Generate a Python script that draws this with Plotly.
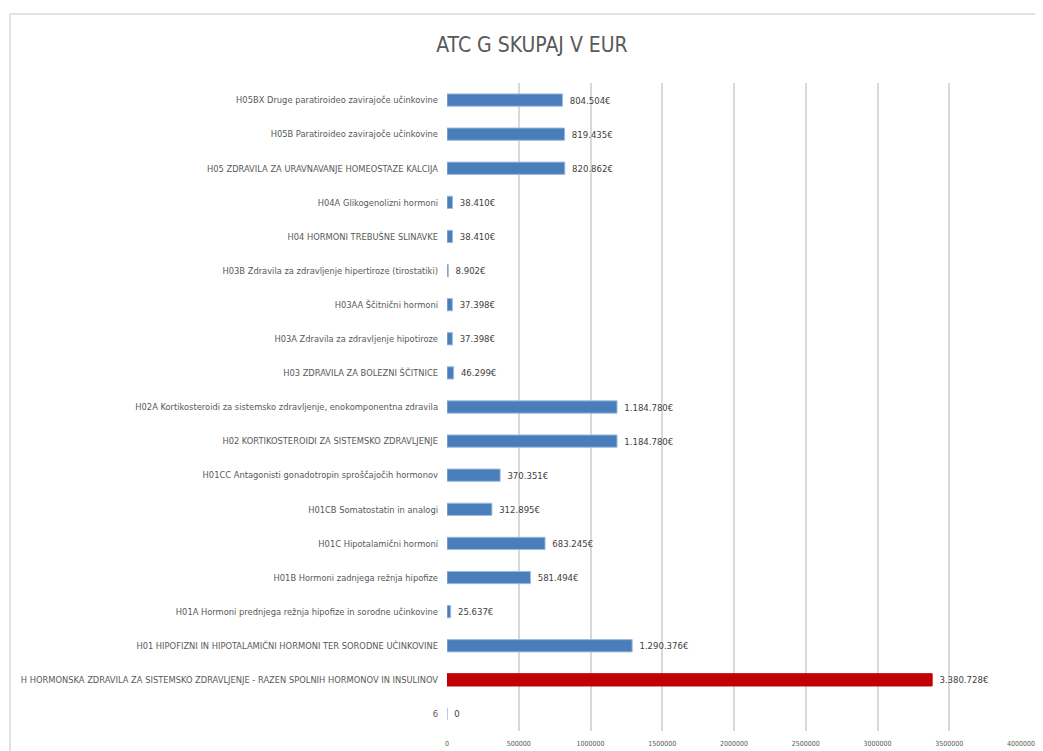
import plotly.graph_objects as go

# Data (top-to-bottom as in the reference)
categories = [
    "H05BX Druge paratiroideo zavirajoče učinkovine",
    "H05B Paratiroideo zavirajoče učinkovine",
    "H05 ZDRAVILA ZA URAVNAVANJE HOMEOSTAZE KALCIJA",
    "H04A Glikogenolizni hormoni",
    "H04 HORMONI TREBUŠNE SLINAVKE",
    "H03B Zdravila za zdravljenje hipertiroze (tirostatiki)",
    "H03AA Ščitnični hormoni",
    "H03A Zdravila za zdravljenje hipotiroze",
    "H03 ZDRAVILA ZA BOLEZNI ŠČITNICE",
    "H02A Kortikosteroidi za sistemsko zdravljenje, enokomponentna zdravila",
    "H02 KORTIKOSTEROIDI ZA SISTEMSKO ZDRAVLJENJE",
    "H01CC Antagonisti gonadotropin sproščajočih hormonov",
    "H01CB Somatostatin in analogi",
    "H01C Hipotalamični hormoni",
    "H01B Hormoni zadnjega režnja hipofize",
    "H01A Hormoni prednjega režnja hipofize in sorodne učinkovine",
    "H01 HIPOFIZNI IN HIPOTALAMIČNI HORMONI TER SORODNE UČINKOVINE",
    "H HORMONSKA ZDRAVILA ZA SISTEMSKO ZDRAVLJENJE - RAZEN SPOLNIH HORMONOV IN INSULINOV",
    "6",
]
values = [804504, 819435, 820862, 38410, 38410, 8902, 37398, 37398, 46299,
          1184780, 1184780, 370351, 312895, 683245, 581494, 25637, 1290376,
          3380728, 0]
highlight = "H HORMONSKA ZDRAVILA ZA SISTEMSKO ZDRAVLJENJE - RAZEN SPOLNIH HORMONOV IN INSULINOV"
x_ticks = [0, 500000, 1000000, 1500000, 2000000, 2500000, 3000000, 3500000, 4000000]

cats = categories[::-1]
vals = values[::-1]
labels = ["\u2002" + ("0" if v == 0 else f"{v:,}".replace(",", ".") + "€") for v in vals]
colors = ["#c00000" if c == highlight else "#4a7ebb" for c in cats]
lines = ["#c00000" if c == highlight else "#9dbbe0" for c in cats]

FONT = "Liberation Sans Narrow, DejaVu Sans Condensed, sans-serif"

W, H = 1035, 743  # page body has an 8px margin

fig = go.Figure(go.Bar(
    y=cats, x=vals, orientation="h",
    marker=dict(color=colors, line=dict(color=lines, width=1)),
    text=labels, textposition="outside", cliponaxis=False,
    textfont=dict(family=FONT, size=9.5, color="#404040"),
    width=0.36,
))

fig.update_layout(
    width=W, height=H,
    margin=dict(l=439, r=22, t=75, b=20, autoexpand=False),
    paper_bgcolor="white", plot_bgcolor="white",
    title=dict(text="ATC G SKUPAJ V EUR", x=(532 - 8) / W, xref="container", xanchor="center",
               y=1 - (45 - 8) / H, yref="container", yanchor="middle",
               font=dict(family=FONT, size=21, color="#595959")),
    showlegend=False,
    font=dict(family=FONT, color="#595959"),
)
fig.update_xaxes(range=[0, 4000000], tickvals=x_ticks,
                 ticktext=[str(t) for t in x_ticks], automargin=False,
                 showgrid=True, gridcolor="#d9d9d9", gridwidth=1.5,
                 zeroline=False, showline=False, ticks="",
                 ticklabelstandoff=7,
                 tickfont=dict(family=FONT, size=7, color="#595959"))
fig.update_yaxes(showgrid=False, zeroline=False, showline=False, ticks="",
                 ticklabelstandoff=8, automargin=False,
                 tickfont=dict(family=FONT, size=9.25, color="#595959"))

# chart frame
fig.add_shape(type="line", xref="paper", yref="paper",
              x0=(10 - 447) / 574, x1=1.05, y0=(731 - 14) / 648, y1=(731 - 14) / 648,
              line=dict(color="#d9d9d9", width=1.5))
fig.add_shape(type="line", xref="paper", yref="paper",
              x0=(10 - 447) / 574, x1=(10 - 447) / 574, y0=(731 - 14) / 648, y1=-0.05,
              line=dict(color="#d9d9d9", width=1.5))

fig.write_html("out.html")
